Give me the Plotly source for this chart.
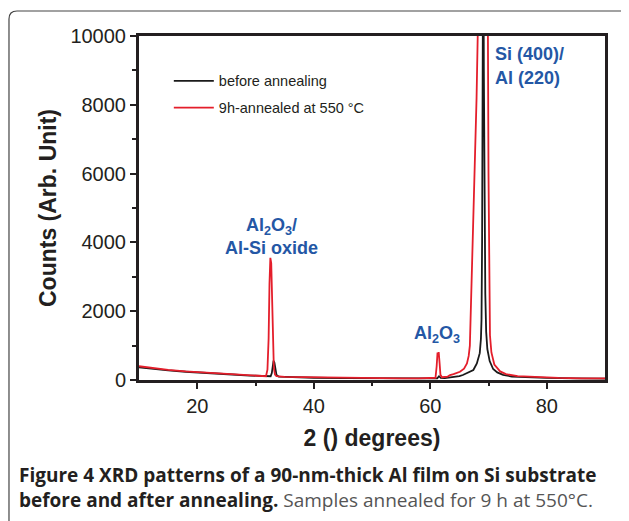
import plotly.graph_objects as go

# ---------------- data ----------------
before_x = [10, 12, 15, 18, 20, 23, 26, 29, 31, 32, 32.6, 32.8, 33.0, 33.1, 33.25, 33.4, 33.6,
            34, 36, 40, 45, 50, 55, 60, 61.2, 61.5, 61.8, 62.5, 64, 65, 65.6, 66.5, 67.4, 68.0,
            68.5, 68.7, 68.8, 68.9, 69.0, 69.1, 69.2, 69.3, 69.45, 69.6, 69.8, 70.2, 70.8, 71.5,
            72.5, 74, 76, 80, 85, 90]
before_y = [370, 330, 280, 240, 215, 185, 160, 130, 110, 105, 110, 200, 450, 560, 500, 300, 150,
            95, 80, 65, 55, 50, 45, 45, 50, 110, 60, 55, 80, 115, 145, 210, 290, 480,
            780, 1200, 1750, 4000, 14000, 14000, 9000, 5000, 2500, 1400, 900, 550, 320, 220,
            150, 100, 80, 60, 45, 40]

annealed_x = [10, 12, 15, 18, 20, 23, 26, 29, 31, 31.8, 32.05, 32.25, 32.4, 32.55, 32.7, 32.85,
              33.0, 33.15, 33.35, 33.6, 35, 40, 45, 50, 55, 58, 60, 60.9, 61.1, 61.25, 61.35,
              61.45, 61.6, 61.75, 62, 63, 63.4, 64, 65.1, 65.8, 66.3, 66.6, 66.8, 67.0, 67.2,
              67.45, 67.7, 67.95, 68.15, 68.5, 69.0, 69.6, 69.9, 70.0, 70.1, 70.25, 70.5, 71,
              72, 73, 75, 78, 82, 86, 90]
annealed_y = [400, 350, 295, 250, 230, 195, 165, 135, 115, 110, 300, 1200, 2800, 3550, 3400, 2200,
              900, 350, 160, 110, 90, 75, 62, 55, 50, 50, 55, 65, 400, 800, 700,
              810, 500, 150, 80, 100, 145, 170, 240, 330, 480, 700, 1000, 2200, 3700,
              5200, 6600, 8200, 10000, 14000, 16000, 14000, 10000, 6000, 2500, 1300, 800, 450,
              250, 170, 110, 80, 60, 50, 45]

x_ticks = [20, 40, 60, 80]
y_ticks = [0, 2000, 4000, 6000, 8000, 10000]
y_tick_labels = ["0", "2000", "4000", "6000", "8000", "10000"]

series_names = ["before annealing", "9h-annealed at 550 °C"]
series_colors = ["#1a1a1a", "#e41e2b"]

# ---------------- figure ----------------
fig = go.Figure()
fig.add_trace(go.Scatter(x=before_x, y=before_y, mode="lines", name=series_names[0],
                         legendgroup="a",
                         line=dict(color=series_colors[0], width=1.8)))
fig.add_trace(go.Scatter(x=annealed_x, y=annealed_y, mode="lines", name=series_names[1],
                         legendgroup="b",
                         line=dict(color=series_colors[1], width=1.8)))

axis_font = dict(family="Liberation Sans, Arial, sans-serif", size=20, color="#231f20")
title_font = dict(family="Liberation Sans, Arial, sans-serif", size=23, color="#231f20")

fig.update_xaxes(range=[10, 90], tickvals=x_ticks, ticks="outside", ticklen=6, tickwidth=2,
                 tickcolor="#231f20", showline=True, linewidth=3, linecolor="#231f20",
                 mirror=True, showgrid=False, zeroline=False, tickfont=axis_font,
                 minor=dict(tickvals=[30, 50, 70], ticks="outside", ticklen=3, tickwidth=2,
                            tickcolor="#231f20"),
                 title=dict(text="<b>2 () degrees)</b>", font=title_font, standoff=14))
fig.update_yaxes(range=[0, 10000], tickvals=y_ticks, ticktext=y_tick_labels,
                 ticks="outside", ticklen=6, tickwidth=2,
                 tickcolor="#231f20", showline=True, linewidth=3, linecolor="#231f20",
                 mirror=True, showgrid=False, zeroline=False, tickfont=axis_font,
                 minor=dict(tickvals=[1000, 3000, 5000, 7000, 9000], ticks="outside",
                            ticklen=4, tickwidth=2, tickcolor="#231f20"),
                 title=dict(text="<b>Counts (Arb. Unit)</b>", font=title_font, standoff=8))

blue = "#2457a5"
ann_font = dict(family="Liberation Sans, Arial, sans-serif", size=18, color=blue)
cap_font = dict(family="Open Sans, sans-serif", size=19, color="#231f20")
annotations = [
    dict(x=32.8, y=4470, text="<b>Al<sub>2</sub>O<sub>3</sub>/</b>", xanchor="center",
         yanchor="middle", showarrow=False, font=ann_font),
    dict(x=32.8, y=3830, text="<b>Al-Si oxide</b>", xanchor="center", yanchor="middle",
         showarrow=False, font=ann_font),
    dict(x=61.2, y=1330, text="<b>Al<sub>2</sub>O<sub>3</sub></b>", xanchor="center",
         yanchor="middle", showarrow=False, font=ann_font),
    dict(x=70.8, y=9480, text="<b>Si (400)/</b>", xanchor="left", yanchor="middle",
         showarrow=False, font=ann_font),
    dict(x=70.8, y=8770, text="<b>Al (220)</b>", xanchor="left", yanchor="middle",
         showarrow=False, font=ann_font),
    # caption (two lines, one text block)
    dict(xref="paper", yref="paper", x=-0.262, y=-0.312, xanchor="left", yanchor="middle",
         align="left", showarrow=False,
         text="<b>Figure 4 XRD patterns of a 90-nm-thick Al film on Si substrate</b><br>"
              "<b>before and after annealing.</b> "
              "<span style='color:#555555'>Samples annealed for 9 h at 550°C.</span>",
         font=cap_font),
]

# page body has an 8 px margin, so the figure is sized/offset to compensate
fig.update_layout(
    width=621, height=513,
    margin=dict(l=131, r=24, t=28, b=141),
    paper_bgcolor="white", plot_bgcolor="white",
    showlegend=True,
    legend=dict(x=0.064, y=0.916, xanchor="left", yanchor="top", bgcolor="rgba(0,0,0,0)",
                font=dict(family="Liberation Sans, Arial, sans-serif", size=14.5, color="#231f20"),
                tracegroupgap=5, itemwidth=40, traceorder="grouped"),
    annotations=annotations,
    shapes=[dict(type="path", xref="paper", yref="paper",
                 path="M 1.06,1.0727 L -0.2618,1.0727 Q -0.279,1.0727 -0.279,1.0494 L -0.279,-0.43",
                 line=dict(color="#444444", width=1.2))],
)

fig.write_html("out.html")
